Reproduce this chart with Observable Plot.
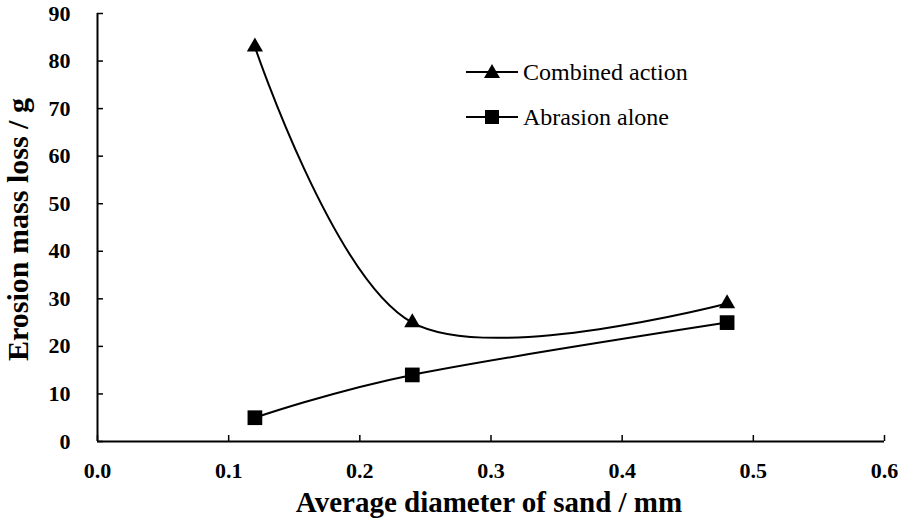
<!DOCTYPE html>
<html>
<head>
<meta charset="utf-8">
<script src="https://cdn.jsdelivr.net/npm/d3@7"></script>
<script src="https://cdn.jsdelivr.net/npm/@observablehq/plot@0.6"></script>
<style>
  html, body { margin: 0; padding: 0; background: #fff; }
  #wrap { position: relative; width: 898px; height: 520px; font-family: "Liberation Serif", "Times New Roman", serif; }
  #legend { position: absolute; left: 466px; top: 58px; font-size: 24px; color: #000; line-height: 28px; }
  #legend .row { display: flex; align-items: center; height: 28px; margin-bottom: 17px; }
  #legend svg { margin-right: 5px; flex: none; }
</style>
</head>
<body>
<div id="wrap"></div>
<script>
const diameters = [0.12, 0.24, 0.48];
const combinedAction = [83, 25, 29];
const abrasionAlone = [5, 14, 25];
const xTicks = [0.0, 0.1, 0.2, 0.3, 0.4, 0.5, 0.6];
const yTicks = [0, 10, 20, 30, 40, 50, 60, 70, 80, 90];
const seriesNames = ["Combined action", "Abrasion alone"];
const xTitle = "Average diameter of sand / mm";
const yTitle = "Erosion mass loss / g";

const combined = diameters.map((d, i) => ({x: d, y: combinedAction[i]}));
const abrasion = diameters.map((d, i) => ({x: d, y: abrasionAlone[i]}));

const chart = Plot.plot({
  width: 898,
  height: 520,
  marginLeft: 97,
  marginRight: 14,
  marginTop: 13,
  marginBottom: 79,
  style: {fontFamily: "'Liberation Serif', 'Times New Roman', serif", fontSize: "22px", fontWeight: "bold", color: "#000", background: "#fff", overflow: "visible"},
  x: {domain: [0, 0.6]},
  y: {domain: [0, 90]},
  marks: [
    Plot.axisX({ticks: xTicks, tickSize: -6, tickFormat: () => "", strokeWidth: 1.5, label: null}),
    Plot.axisX({ticks: xTicks, tickSize: 0, tickPadding: 21, tickFormat: d => d.toFixed(1), label: null, fontSize: 22}),
    Plot.axisY({ticks: yTicks, tickSize: -6, tickFormat: () => "", strokeWidth: 1.5, label: null}),
    Plot.axisY({ticks: yTicks, tickSize: 0, tickPadding: 27, label: null, fontSize: 22}),
    Plot.text([xTitle], {frameAnchor: "bottom", text: d => d, dy: 61, dx: -2, textAnchor: "middle", lineAnchor: "middle", fontSize: 29, fontWeight: "bold"}),
    Plot.text([yTitle], {frameAnchor: "left", text: d => d, dx: -79, dy: 2, rotate: -90, textAnchor: "middle", lineAnchor: "middle", fontSize: 30, fontWeight: "bold"}),
    Plot.ruleY([0], {strokeWidth: 2}),
    Plot.ruleX([0], {strokeWidth: 2}),
    Plot.line(combined, {x: "x", y: "y", curve: "cardinal", strokeWidth: 2, stroke: "#000"}),
    Plot.line(abrasion, {x: "x", y: "y", curve: "cardinal", strokeWidth: 2, stroke: "#000"}),
    Plot.dot(combined, {x: "x", y: "y", symbol: "triangle", r: 6, fill: "#000", stroke: "none"}),
    Plot.dot(abrasion, {x: "x", y: "y", symbol: "square", r: 8.3, fill: "#000", stroke: "none"})
  ]
});
const wrap = document.getElementById("wrap");
wrap.appendChild(chart);

const legend = document.createElement("div");
legend.id = "legend";
seriesNames.forEach((name, i) => {
  const row = document.createElement("div");
  row.className = "row";
  const sym = i === 0
    ? '<polygon points="26,6 34,20 18,20" fill="#000"/>'
    : '<rect x="19" y="7" width="14" height="14" fill="#000"/>';
  row.innerHTML = `<svg width="52" height="28"><line x1="0" y1="14" x2="52" y2="14" stroke="#000" stroke-width="2"/>${sym}</svg><span>${name}</span>`;
  legend.appendChild(row);
});
wrap.appendChild(legend);
</script>
</body>
</html>
